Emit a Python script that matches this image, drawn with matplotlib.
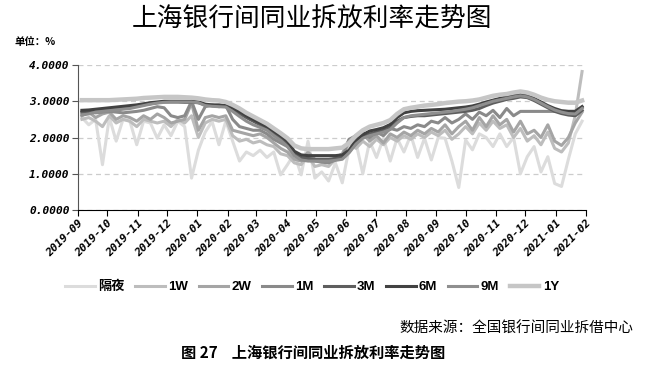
import numpy as np
import pandas as pd
import matplotlib
matplotlib.use("Agg")
import matplotlib.pyplot as plt
import matplotlib.dates as mdates

plt.rcParams['font.family'] = ['Noto Sans CJK SC', 'DejaVu Sans']
plt.rcParams['axes.unicode_minus'] = False

# weekly readings (Thursdays), 2019-09-05 .. 2021-01-28
dates = pd.date_range("2019-09-05", periods=74, freq="7D")

on = [2.55, 2.35, 2.5, 1.25, 2.55, 1.9, 2.5, 2.45, 1.8, 2.45, 2.4, 1.98, 2.35, 2.05, 2.45, 2.3,
      0.88, 1.65, 2.15, 2.44, 1.8, 2.45, 1.9, 1.35, 1.6, 1.5, 1.65, 1.45, 1.6, 0.97, 1.25, 1.55,
      0.97, 1.9, 0.88, 1.05, 0.8, 1.3, 0.75, 1.7, 1.85, 1.0, 1.9, 1.45, 1.98, 1.35, 1.98, 1.6,
      2.07, 1.45, 1.98, 1.38, 2.0, 1.98, 1.35, 0.62, 1.93, 1.66, 2.1, 2.0, 1.75, 2.1, 1.75, 2.0,
      1.0, 1.47, 1.75, 1.05, 1.47, 0.73, 0.65, 1.4, 2.1, 2.45]
w1 = [2.5, 2.55, 2.45, 2.3, 2.6, 2.4, 2.5, 2.45, 2.3, 2.5, 2.45, 2.4, 2.45, 2.3, 2.5, 2.4,
      2.6, 2.0, 2.4, 2.5, 2.45, 2.5, 2.05, 1.9, 1.95, 1.85, 1.9, 1.8, 1.75, 1.55, 1.5, 1.3,
      1.25, 1.5, 1.2, 1.25, 1.2, 1.4, 1.5, 1.85, 1.7, 1.9, 1.75, 1.95, 1.8, 2.0, 1.9, 2.05,
      1.95, 2.1, 2.0, 2.15, 2.05, 2.2, 1.95, 2.1, 2.3, 2.1, 2.4, 2.2, 2.45, 2.25, 2.35, 2.0,
      2.25, 1.9, 2.05, 1.8, 2.15, 1.7, 1.6, 1.85, 2.6, 3.82]
w2 = [2.6, 2.7, 2.55, 2.65, 2.7, 2.5, 2.6, 2.55, 2.45, 2.6, 2.5, 2.65, 2.55, 2.4, 2.45, 2.5,
      2.95, 2.2, 2.55, 2.6, 2.55, 2.6, 2.2, 2.15, 2.1, 2.05, 2.1, 2.0, 1.85, 1.7, 1.6, 1.4,
      1.35, 1.6, 1.4, 1.35, 1.32, 1.45, 1.55, 1.95, 1.8, 2.1, 1.9, 2.05, 1.85, 2.1, 2.0, 2.15,
      2.05, 2.2, 2.1, 2.25, 2.15, 2.35, 2.1, 2.3, 2.45, 2.2, 2.55, 2.3, 2.6, 2.35, 2.5, 2.15,
      2.45, 2.1, 2.2, 2.0, 2.35, 1.9, 1.78, 2.0, 2.4, 2.7]
m1 = [2.7, 2.72, 2.68, 2.7, 2.72, 2.7, 2.68, 2.7, 2.72, 2.75, 2.8, 2.85, 2.82, 2.6, 2.55, 2.6,
      3.0, 2.5, 2.85, 2.9, 2.85, 2.88, 2.5, 2.3, 2.25, 2.2, 2.2, 2.1, 1.95, 1.85, 1.75, 1.55,
      1.4, 1.45, 1.35, 1.32, 1.3, 1.38, 1.45, 1.95, 2.05, 2.15, 2.0, 2.15, 2.05, 2.25, 2.2, 2.3,
      2.25, 2.35, 2.3, 2.45, 2.4, 2.55, 2.4, 2.5, 2.65, 2.5, 2.7, 2.6, 2.75, 2.55, 2.8, 2.6,
      2.72, 2.72, 2.72, 2.72, 2.72, 2.72, 2.72, 2.72, 2.72, 2.85]
m3 = [2.7, 2.72, 2.74, 2.76, 2.78, 2.8, 2.82, 2.84, 2.86, 2.9, 2.93, 2.96, 2.98, 2.98, 2.98, 2.97,
      2.97, 2.96, 2.9, 2.88, 2.87, 2.86, 2.78, 2.66, 2.55, 2.45, 2.35, 2.25, 2.12, 1.98, 1.82, 1.55,
      1.45, 1.42, 1.4, 1.4, 1.4, 1.42, 1.45, 1.6, 1.85, 2.0, 2.1, 2.15, 2.2, 2.28, 2.45, 2.55,
      2.58, 2.6, 2.6, 2.62, 2.64, 2.66, 2.68, 2.7, 2.72, 2.75, 2.8, 2.88, 2.95, 3.0, 3.05, 3.08,
      3.12, 3.1, 3.02, 2.92, 2.82, 2.72, 2.66, 2.62, 2.6, 2.75]
m6 = [2.75, 2.76, 2.78, 2.8, 2.82, 2.84, 2.86, 2.88, 2.9, 2.93, 2.96, 2.98, 3.0, 3.0, 3.0, 3.0,
      3.0, 2.98, 2.92, 2.9, 2.9, 2.88, 2.82, 2.72, 2.6, 2.5, 2.4, 2.3, 2.18, 2.05, 1.9, 1.62,
      1.52, 1.5, 1.5, 1.5, 1.5, 1.5, 1.52, 1.65, 1.92, 2.08, 2.18, 2.22, 2.27, 2.36, 2.55, 2.68,
      2.72, 2.74, 2.75, 2.76, 2.77, 2.78, 2.8, 2.82, 2.84, 2.87, 2.92, 2.98, 3.03, 3.08, 3.12, 3.16,
      3.18, 3.15, 3.08, 2.98, 2.88, 2.8, 2.74, 2.72, 2.72, 2.85]
m9 = [2.62, 2.65, 2.7, 2.72, 2.74, 2.76, 2.78, 2.8, 2.84, 2.88, 2.92, 2.95, 2.97, 2.98, 2.98, 2.98,
      2.98, 2.96, 2.88, 2.86, 2.85, 2.84, 2.72, 2.58, 2.45, 2.35, 2.28, 2.2, 2.05, 1.92, 1.75, 1.5,
      1.38, 1.35, 1.35, 1.35, 1.35, 1.37, 1.4, 1.58, 1.82, 1.98, 2.05, 2.1, 2.15, 2.22, 2.4, 2.55,
      2.6, 2.62, 2.64, 2.66, 2.68, 2.7, 2.72, 2.75, 2.78, 2.82, 2.88, 2.94, 3.0, 3.04, 3.08, 3.12,
      3.15, 3.12, 3.05, 2.95, 2.85, 2.76, 2.7, 2.66, 2.65, 2.8]
y1 = [3.03, 3.03, 3.03, 3.03, 3.03, 3.04, 3.05, 3.06, 3.07, 3.09, 3.1, 3.11, 3.12, 3.12, 3.12, 3.11,
      3.1, 3.08, 3.05, 3.03, 3.02, 2.98, 2.9, 2.8, 2.68, 2.58, 2.48, 2.38, 2.25, 2.12, 1.98, 1.78,
      1.7, 1.68, 1.68, 1.68, 1.68, 1.7, 1.72, 1.85, 2.05, 2.2, 2.3, 2.35, 2.4, 2.48, 2.65, 2.78,
      2.82, 2.85, 2.88, 2.9, 2.92, 2.95, 2.97, 2.99, 3.0, 3.02, 3.05, 3.1, 3.15, 3.18, 3.2, 3.24,
      3.27, 3.24, 3.18, 3.1, 3.04, 3.0, 2.98, 2.96, 2.96, 3.02]

labels = ["隔夜", "1W", "2W", "1M", "3M", "6M", "9M", "1Y"]
series = [on, w1, w2, m1, m3, m6, m9, y1]
colors = ["#dcdcdc", "#bdbdbd", "#a5a5a5", "#8a8a8a", "#5e5e5e", "#424242", "#8f8f8f", "#c6c6c6"]
widths = [2.2, 2.2, 2.2, 2.2, 2.2, 2.2, 2.2, 3.2]

fig = plt.figure(figsize=(6.51, 3.86), dpi=100)
ax = fig.add_axes([78 / 651, 1 - 210 / 386, (586 - 78) / 651, (210 - 65) / 386])

lines = []
for vals, lab, c, lw in zip(series, labels, colors, widths):
    ln, = ax.plot(dates, vals, color=c, lw=lw, label=lab, solid_joinstyle="round")
    lines.append(ln)

ax.set_xlim(pd.Timestamp("2019-09-01"), pd.Timestamp("2021-02-01"))
ax.set_ylim(0, 4)
ax.set_yticks([0, 1, 2, 3, 4])
ax.yaxis.set_major_formatter(matplotlib.ticker.FormatStrFormatter("%.4f"))
ax.xaxis.set_major_locator(mdates.MonthLocator())
ax.xaxis.set_major_formatter(mdates.DateFormatter("%Y-%m"))
ax.grid(axis="y", ls=(0, (4, 3)), color="#cccccc", lw=0.9)
ax.set_axisbelow(True)
for s in ["top", "right"]:
    ax.spines[s].set_visible(False)
ax.spines["left"].set_color("#555555")
ax.spines["bottom"].set_color("black")
ax.tick_params(axis="y", length=4, color="#555555", pad=2)
ax.tick_params(axis="x", length=4, pad=2)

tick_font = dict(family="DejaVu Sans Mono", weight="bold", style="oblique", size=8)
for t in ax.get_yticklabels():
    t.set(**tick_font)
for t in ax.get_xticklabels():
    t.set(**tick_font, rotation=45, ha="right", rotation_mode="anchor")

fig.text(312 / 651, 1 - 20 / 386, "上海银行间同业拆放利率走势图", ha="center", va="center",
         fontsize=18.5, family=["Noto Sans CJK SC"])
fig.text(14 / 651, 1 - 42 / 386, "单位：%", ha="left", va="center", fontsize=7.5,
         weight="bold", style="italic", family=["Noto Sans CJK SC", "DejaVu Sans"])

leg = fig.legend(handles=lines, loc="center", bbox_to_anchor=(312 / 651, 1 - 287 / 386), ncol=8,
                 frameon=False, handlelength=2.25, handletextpad=0.25, columnspacing=0.8,
                 prop=dict(family=["Liberation Sans", "Noto Sans CJK SC"], weight="bold", size=9.5))

fig.text(633 / 651, 1 - 329 / 386, "数据来源：全国银行间同业拆借中心", ha="right", va="center",
         fontsize=10.5, style="italic", family=["Noto Sans CJK SC"])
fig.text(313 / 651, 1 - 353 / 386, "图 27    上海银行间同业拆放利率走势图", ha="center", va="center",
         fontsize=11, weight="bold", family=["Noto Sans CJK SC", "DejaVu Sans"])

fig.savefig("out.png", dpi=100)
